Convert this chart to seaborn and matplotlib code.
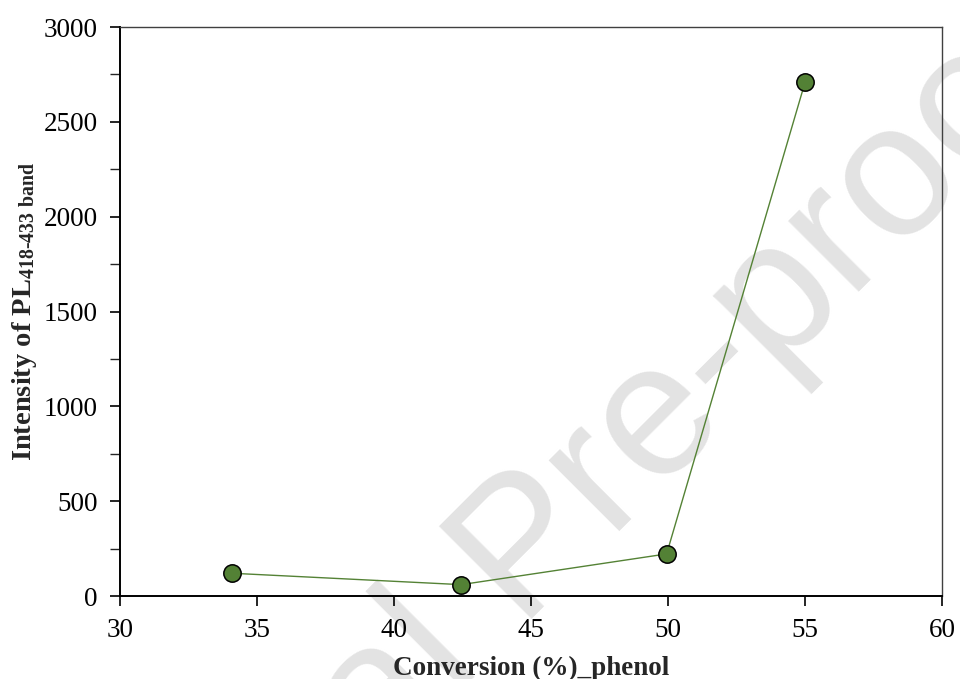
import matplotlib
matplotlib.use("Agg")
import matplotlib.pyplot as plt
import seaborn as sns
import pandas as pd

# Data
conversion = [34.1, 42.45, 49.95, 55.0]
intensity = [120, 60, 222, 2708]
x_ticks = [30, 35, 40, 45, 50, 55, 60]
y_ticks = [0, 500, 1000, 1500, 2000, 2500, 3000]

sns.set_style("ticks")
plt.rcParams['font.family'] = ['Liberation Serif', 'DejaVu Serif']
plt.rcParams['mathtext.fontset'] = 'custom'
plt.rcParams['mathtext.rm'] = 'Liberation Serif:bold'
plt.rcParams['mathtext.bf'] = 'Liberation Serif:bold'
plt.rcParams['mathtext.it'] = 'Liberation Serif:bold'

df = pd.DataFrame({"conversion": conversion, "intensity": intensity})

fig = plt.figure(figsize=(9.6, 6.79), dpi=100)
ax = fig.add_axes([0.125, 0.1222, 0.85625, 0.838])
ax.set_zorder(2)
ax.patch.set_alpha(0)

# watermark behind everything
fig.text(528 / 960, 1 - 554 / 679, "Journal Pre-proof", rotation=45,
         rotation_mode='anchor', ha='center', va='center',
         fontsize=137, color='#e3e3e3', family='Liberation Sans', zorder=0)

sns.lineplot(data=df, x="conversion", y="intensity", sort=False, ax=ax,
             color='#548235', linewidth=1.0, marker='o', markersize=12.5,
             markerfacecolor='#538135', markeredgecolor='black',
             markeredgewidth=1.1, zorder=3)

ax.set_xlim(30, 60)
ax.set_ylim(0, 3000)
ax.set_xticks(x_ticks)
ax.set_yticks(y_ticks)
ax.set_xticklabels([str(v) for v in x_ticks])
ax.set_yticklabels([str(v) for v in y_ticks])
ax.set_yticks([250, 750, 1250, 1750, 2250, 2750], minor=True)

ax.tick_params(axis='both', which='major', direction='out', length=7, width=1.2,
               labelsize=19.5, colors='black')
ax.tick_params(axis='x', which='major', pad=9)
ax.tick_params(axis='y', which='major', pad=9)
ax.tick_params(axis='y', which='minor', direction='out', length=7, width=1.0)

for s in ['left', 'bottom']:
    ax.spines[s].set_color('black')
    ax.spines[s].set_linewidth(1.4)
for s in ['top', 'right']:
    ax.spines[s].set_visible(True)
    ax.spines[s].set_color('#404040')
    ax.spines[s].set_linewidth(1.0)

ax.set_xlabel("Conversion (%)_phenol", fontsize=19.5, fontweight='bold', labelpad=9)
ax.set_ylabel(r"Intensity of PL$_{\mathrm{418\text{-}433\ band}}$", fontsize=20.5,
              fontweight='bold', labelpad=3)

fig.savefig("out.png", dpi=100)
